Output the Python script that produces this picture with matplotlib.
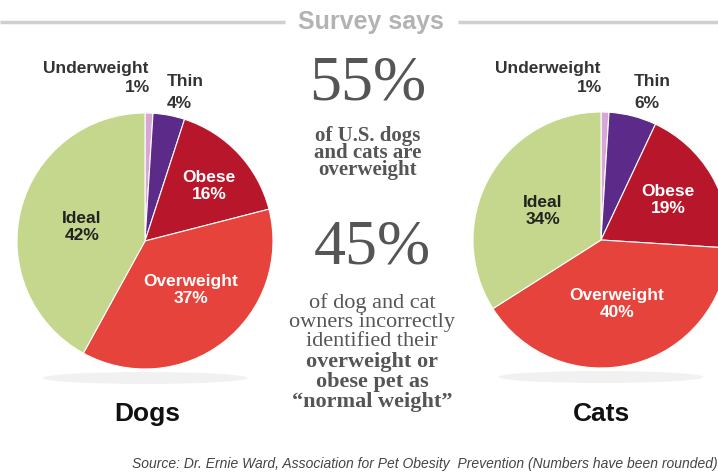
import matplotlib.pyplot as plt
from matplotlib.patches import Ellipse

# data
categories = ["Underweight", "Thin", "Obese", "Overweight", "Ideal"]
dogs = [1, 4, 16, 37, 42]
cats = [1, 6, 19, 40, 34]
colors = ["#d9a6d8", "#5c2a88", "#b8172b", "#e5433b", "#c4d78c"]

W, H = 718, 475
fig = plt.figure(figsize=(W / 100, H / 100), dpi=100)
ax = fig.add_axes([0, 0, 1, 1])
ax.set_xlim(0, W)
ax.set_ylim(0, H)
ax.set_aspect("equal")
ax.axis("off")

def py(y):
    # pixel row -> data y
    return H - y

sans = "Liberation Sans"
serif = "Liberation Serif"
dark = "#333333"

# pies
R = 128
for vals, cx, cy in [(dogs, 145, 241), (cats, 601, 240)]:
    ax.add_patch(Ellipse((cx, py(cy + R + 9)), 2 * R * 0.8, 12,
                         color="#e2e2e2", alpha=0.45, lw=0, zorder=0))
    ax.pie(vals, colors=colors, startangle=90, counterclock=False,
           center=(cx, py(cy)), radius=R, frame=True,
           wedgeprops=dict(edgecolor="white", linewidth=0.8))
ax.set_xlim(0, W)
ax.set_ylim(0, H)
ax.axis("off")

def lab(x, y, s, color=dark, ha="center", size=12.5):
    ax.text(x, py(y), s, ha=ha, va="center", fontsize=size, color=color,
            fontfamily=sans, fontweight="bold", linespacing=1.1)

# dogs labels
lab(96, 69, "Underweight")
lab(150, 88, "1%", ha="right")
lab(167, 81, "Thin", ha="left")
lab(167, 103, "4%", ha="left")
lab(209, 186, "Obese\n16%", color="white")
lab(191, 290, "Overweight\n37%", color="white")
lab(82, 227, "Ideal\n42%", color="#222222")

# cats labels
lab(548, 69, "Underweight")
lab(602, 88, "1%", ha="right")
lab(634, 81, "Thin", ha="left")
lab(634, 103, "6%", ha="left")
lab(668, 200, "Obese\n19%", color="white")
lab(617, 304, "Overweight\n40%", color="white")
lab(543, 211, "Ideal\n34%", color="#222222")

ax.text(147, py(414), "Dogs", ha="center", va="center", fontsize=19,
        fontfamily=sans, fontweight="bold", color="#111111")
ax.text(602, py(414), "Cats", ha="center", va="center", fontsize=19,
        fontfamily=sans, fontweight="bold", color="#111111")

# title with rules
ax.plot([0, 285], [py(22), py(22)], color="#cfcfcf", lw=2.5, solid_capstyle="butt")
ax.plot([458, 718], [py(22), py(22)], color="#cfcfcf", lw=2.5, solid_capstyle="butt")
ax.text(371, py(22), "Survey says", ha="center", va="center", fontsize=18,
        fontfamily=sans, fontweight="bold", color="#b3b3b3")

# center text
grey = "#555555"
ax.text(368, py(84), "55%", ha="center", va="center", fontsize=46,
        fontfamily=serif, color=grey)
ax.text(368, py(153), "of U.S. dogs\nand cats are\noverweight", ha="center",
        va="center", fontsize=15, fontfamily=serif, fontweight="bold",
        color=grey, linespacing=0.8)

ax.text(372, py(249), "45%", ha="center", va="center", fontsize=46,
        fontfamily=serif, color=grey)
ax.text(372, py(322), "of dog and cat\nowners incorrectly\nidentified their",
        ha="center", va="center", fontsize=16, fontfamily=serif,
        color=grey, linespacing=0.97)
ax.text(372, py(382), "overweight or\nobese pet as\n\u201cnormal weight\u201d",
        ha="center", va="center", fontsize=16, fontfamily=serif,
        fontweight="bold", color=grey, linespacing=0.97)

ax.text(132, py(464), "Source: Dr. Ernie Ward, Association for Pet Obesity  "
        "Prevention (Numbers have been rounded)", ha="left", va="center",
        fontsize=10, fontfamily=sans, fontstyle="italic", color="#444444")

fig.savefig("out.png", dpi=100)
